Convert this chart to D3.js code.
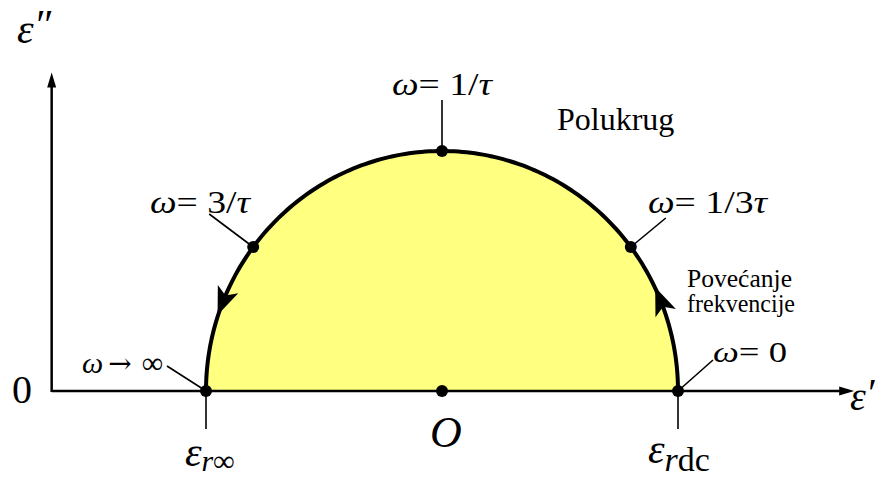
<!DOCTYPE html>
<html><head><meta charset="utf-8">
<script src="https://cdn.jsdelivr.net/npm/d3@7"></script>
<style>html,body{margin:0;padding:0;background:#fff;}svg{display:block;}</style>
</head><body>
<script>
// ---- data ----
const epsInf = 1;          // ε_r∞
const epsDc = 4;           // ε_rdc
const axisXMax = 5.12;     // extent of ε' axis
const axisYMax = 1.99;     // extent of ε'' axis
const pointNames = ["ω→∞", "ω=3/τ", "ω=1/τ", "ω=1/3τ", "ω=0", "O"];
const pointEpsP  = [1.0, 1.3, 2.5, 3.7, 4.0, 2.5];
const pointEpsPP = [0.0, 0.9, 1.5, 0.9, 0.0, 0.0];
const arrowAngles = [22, 158];   // degrees on the semicircle, direction of increasing frequency

const W = 881, H = 478;
const svg = d3.select("body").append("svg").attr("width", W).attr("height", H);

const x = d3.scaleLinear().domain([epsInf, epsDc]).range([206, 678]);
const y = d3.scaleLinear().domain([0, 1.5]).range([391, 151]);

const center = (epsInf + epsDc) / 2, R = (epsDc - epsInf) / 2;
const arcPts = d3.range(0, 181, 1).map(a => {
  const t = a * Math.PI / 180;
  return [center + R * Math.cos(t), R * Math.sin(t)];
});
const line = d3.line().x(d => x(d[0])).y(d => y(d[1]));

// fill
svg.append("path").attr("d", line(arcPts) + "Z").attr("fill", "#ffff80").attr("stroke", "none");

// axes
const x0 = x(0), y0 = y(0);
svg.append("line").attr("x1", x0 + 3).attr("y1", y0).attr("x2", x(axisXMax) - 10).attr("y2", y0)
  .attr("stroke", "#000").attr("stroke-width", 2.5);
svg.append("line").attr("x1", x0 + 3).attr("y1", y0 + 1).attr("x2", x0 + 3).attr("y2", y(axisYMax) + 10)
  .attr("stroke", "#000").attr("stroke-width", 2.5);
// axis arrowheads
const xt = x(axisXMax), yt = y(axisYMax);
svg.append("path").attr("d", `M${xt},${y0} L${xt - 15},${y0 - 4.5} L${xt - 15},${y0 + 4.5} Z`).attr("fill", "#000");
svg.append("path").attr("d", `M${x0 + 3},${yt} L${x0 - 1.5},${yt + 15} L${x0 + 7.5},${yt + 15} Z`).attr("fill", "#000");

// semicircle stroke
svg.append("path").attr("d", line(arcPts)).attr("fill", "none").attr("stroke", "#000").attr("stroke-width", 4);

// arrowheads on the arc
arrowAngles.forEach(a => {
  const t = a * Math.PI / 180;
  const px = x(center + R * Math.cos(t)), py = y(R * Math.sin(t));
  const ang = Math.atan2(-Math.cos(t), -Math.sin(t)) * 180 / Math.PI;
  svg.append("path")
    .attr("d", "M15,0 L-13,-11 L-6,0 L-13,11 Z")
    .attr("fill", "#000")
    .attr("transform", `translate(${px},${py}) rotate(${ang})`);
});

// leader lines (offsets from each point)
const P = i => [x(pointEpsP[i]), y(pointEpsPP[i])];
const leaders = [
  [0, -39, -25], [1, -44, -33], [2, 0, -51], [3, 35, -29], [4, 35, -31]
];
leaders.forEach(([i, dx, dy]) => {
  const [px, py] = P(i);
  svg.append("line").attr("x1", px).attr("y1", py).attr("x2", px + dx).attr("y2", py + dy)
    .attr("stroke", "#000").attr("stroke-width", 1.6);
});
// ticks below axis
[0, 4].forEach(i => {
  const [px, py] = P(i);
  svg.append("line").attr("x1", px).attr("y1", py).attr("x2", px).attr("y2", py + 38)
    .attr("stroke", "#000").attr("stroke-width", 1.6);
});

// dots
svg.selectAll("circle.pt").data(pointEpsP).join("circle")
  .attr("cx", (d) => x(d)).attr("cy", (d, i) => y(pointEpsPP[i])).attr("r", 6).attr("fill", "#000");

// text helper
const FONT = "'Liberation Serif', 'Times New Roman', serif";
function label(tx, ty, parts, size, width) {
  const t = svg.append("text").attr("x", tx).attr("y", ty).attr("font-family", FONT)
    .attr("font-size", size).attr("fill", "#000");
  parts.forEach(p => {
    const s = t.append("tspan").text(p.t);
    if (p.i) s.attr("font-style", "italic");
    if (p.s) s.attr("font-size", p.s);
    if (p.f) s.attr("font-family", p.f);
    if (p.dy) s.attr("dy", p.dy);
    if (p.dx) s.attr("dx", p.dx);
  });
  if (width) t.attr("textLength", width).attr("lengthAdjust", "spacingAndGlyphs");
  return t;
}

label(392, 95, [{t: "ω", i: 1}, {t: "= 1/"}, {t: "τ", i: 1}], 32, 100);
label(150, 213, [{t: "ω", i: 1}, {t: "= 3/"}, {t: "τ", i: 1}], 32, 100);
label(648, 213, [{t: "ω", i: 1}, {t: "= 1/3"}, {t: "τ", i: 1}], 32, 119);
label(82, 373, [{t: "ω", i: 1}, {t: "→", f: "'DejaVu Serif'", s: 28, dx: 5}, {t: "∞", dx: 10}], 30);
label(713, 362, [{t: "ω", i: 1}, {t: "= 0"}], 30, 74);
label(557, 130, [{t: "Polukrug"}], 32);
label(687, 287, [{t: "Povećanje"}], 25, 105);
label(687, 312, [{t: "frekvencije"}], 25, 108);
label(12, 403, [{t: "0"}], 40);
label(430, 447, [{t: "O", i: 1}], 44);
label(17, 43, [{t: "ε", i: 1}, {t: "″", i: 1, dy: -4}], 42);
label(850, 410, [{t: "ε", i: 1}, {t: "′", i: 1, dy: -4}], 40);
label(185, 466, [{t: "ε", i: 1}, {t: "r∞", i: 1, s: 30, dy: 5}], 42);
label(648, 463, [{t: "ε", i: 1}, {t: "r", i: 1, s: 34, dy: 8}, {t: "dc", s: 34}], 42);
</script>
</body></html>
